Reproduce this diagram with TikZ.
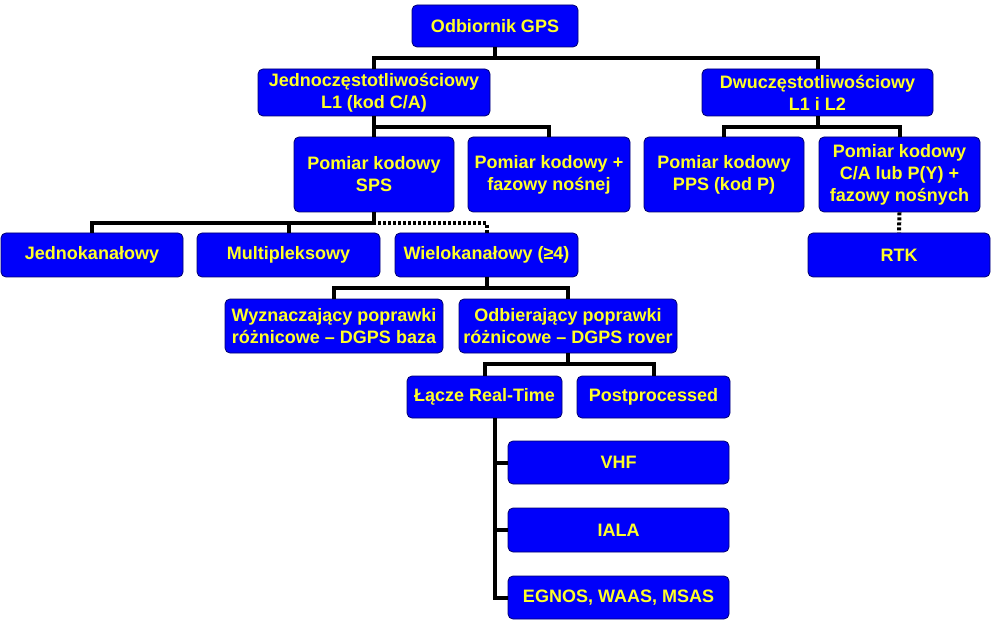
\documentclass[tikz,border=0pt]{standalone}
\usepackage{fontspec}
\setmainfont{Liberation Sans}
\usepackage{tikz}
\newcommand{\dy}{11}
\definecolor{bleugps}{RGB}{0,0,250}
\definecolor{bordgps}{RGB}{0,0,110}
\definecolor{jaunegps}{RGB}{255,255,40}
\tikzstyle{bloc}=[draw=bordgps,line width=0.8pt,fill=bleugps,rounded corners=5pt,
  text=jaunegps,font=\fontsize{18}{22}\selectfont\bfseries,align=center,inner sep=0]
\tikzstyle{lien}=[line width=4pt]
\tikzstyle{pointille}=[line width=4pt,dash pattern=on 3pt off 2pt]
\newcommand{\boite}[5]{
\node[bloc,minimum width=#3,minimum height=#4](#1) at #2 {#5};
}
\newcommand{\arbre}[3][lien]{
\draw[#1] (#2.south) -- ++(0,\dy) -| (#3.north);
}

\begin{document}
\begin{tikzpicture}[x=1pt,y=-1pt]
\useasboundingbox (0,0) rectangle (991,639);

%niveau 0 et 1
\boite{gps}{(495,26)}{166}{42}{Odbiornik GPS}
\boite{jedno}{(374,92.5)}{232}{47}{Jednoczęstotliwościowy\\L1 (kod C/A)}
\boite{dwu}{(817.5,92.5)}{231}{47}{Dwuczęstotliwościowy\\L1 i L2}

%pomiary
\boite{sps}{(374,174.5)}{160}{75}{Pomiar kodowy\\SPS}
\boite{faz}{(549,174.5)}{162}{75}{Pomiar kodowy +\\fazowy nośnej}
\boite{pps}{(724,174.5)}{160}{75}{Pomiar kodowy\\PPS (kod P)}
\boite{ca}{(899.5,174.5)}{161}{75}{Pomiar kodowy\\C/A lub P(Y) +\\fazowy nośnych}

%kanaly
\boite{jk}{(92,255)}{182}{44}{Jednokanałowy}
\boite{multi}{(288.5,255)}{183}{44}{Multipleksowy}
\boite{wielo}{(486.5,255)}{183}{44}{Wielokanałowy (≥4)}
\boite{rtk}{(899,255)}{182}{44}{RTK}

%DGPS
\boite{baza}{(334,326)}{218}{54}{Wyznaczający poprawki\\różnicowe – DGPS baza}
\boite{rover}{(568,326)}{218}{54}{Odbierający poprawki\\różnicowe – DGPS rover}
\boite{lacze}{(484.5,397)}{155}{42}{Łącze Real-Time}
\boite{post}{(653.5,397)}{153}{42}{Postprocessed}

\boite{vhf}{(618.5,462.5)}{221}{43}{VHF}
\boite{iala}{(618.5,530)}{221}{44}{IALA}
\boite{egnos}{(618.5,597.5)}{221}{43}{EGNOS, WAAS, MSAS}

%polaczenia
\arbre{gps}{jedno}
\arbre{gps}{dwu}
\arbre{jedno}{sps}
\arbre{jedno}{faz}
\arbre{dwu}{pps}
\arbre{dwu}{ca}
\arbre{sps}{jk}
\arbre{sps}{multi}
\arbre[pointille]{sps}{wielo}
\draw[pointille] (ca.south) -- (rtk.north);
\arbre{wielo}{baza}
\arbre{wielo}{rover}
\arbre{rover}{lacze}
\arbre{rover}{post}

\foreach \I in {vhf,iala,egnos}
\draw[lien] ([xshift=10]lacze.south) |- (\I.west);
\end{tikzpicture}
\end{document}
